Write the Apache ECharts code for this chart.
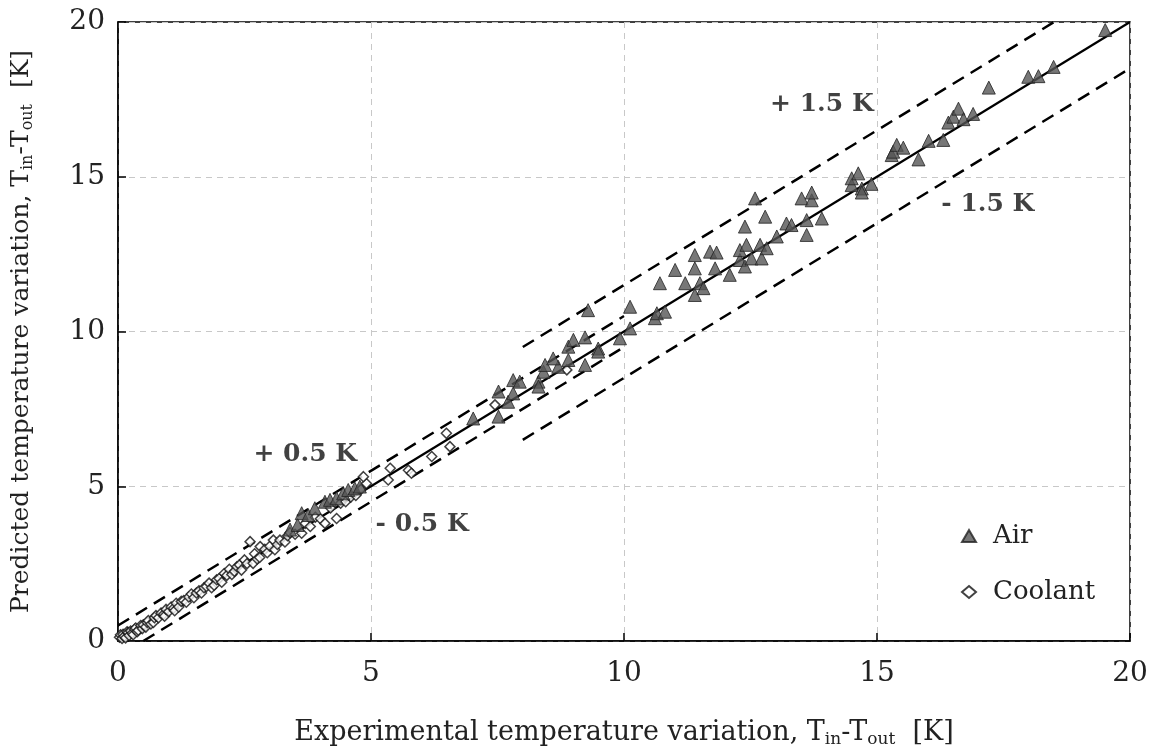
<!DOCTYPE html>
<html>
<head>
<meta charset="utf-8">
<script src="https://cdn.jsdelivr.net/npm/echarts@6/dist/echarts.min.js"></script>
<style>
  html, body { margin: 0; padding: 0; background: #fff; }
  #chart { width: 1156px; height: 753px; }
</style>
</head>
<body>
<div id="chart"></div>
<script>
// experimental vs predicted temperature variation [K]
const airPoints = [
    [3.40, 3.60], [3.55, 3.75], [3.63, 4.13], [3.76, 4.07], [3.89, 4.29], [4.09, 4.50],
    [4.19, 4.56], [4.32, 4.61], [4.45, 4.77], [4.55, 4.88], [4.68, 4.93], [4.78, 4.99],
    [7.02, 7.19], [7.52, 7.25], [7.71, 7.73], [7.52, 8.06], [7.81, 8.00], [7.81, 8.43],
    [7.94, 8.38], [8.31, 8.38], [8.31, 8.22], [8.41, 8.70], [8.44, 8.92], [8.70, 8.86],
    [8.60, 9.13], [8.90, 9.08], [8.90, 9.51], [9.00, 9.73], [9.23, 9.81], [9.23, 8.92],
    [9.49, 9.45], [9.49, 9.35], [9.29, 10.69], [9.92, 9.78], [10.12, 10.10], [10.12, 10.80],
    [10.61, 10.43], [10.65, 10.59], [10.81, 10.64], [10.71, 11.56], [11.01, 11.99], [11.21, 11.56],
    [11.40, 11.18], [11.50, 11.56], [11.57, 11.40], [11.40, 12.04], [11.40, 12.47], [11.70, 12.58],
    [11.83, 12.55], [11.80, 12.04], [12.09, 11.83], [12.29, 12.31], [12.39, 12.10], [12.52, 12.36],
    [12.72, 12.36], [12.29, 12.63], [12.42, 12.80], [12.69, 12.80], [12.82, 12.69], [13.02, 13.07],
    [12.39, 13.39], [12.79, 13.71], [12.59, 14.30], [13.21, 13.49], [13.31, 13.44], [13.61, 13.60],
    [13.61, 13.12], [13.91, 13.65], [13.51, 14.30], [13.71, 14.24], [13.71, 14.49], [14.50, 14.73],
    [14.50, 14.95], [14.63, 15.11], [14.70, 14.62], [14.70, 14.49], [14.89, 14.77], [15.29, 15.70],
    [15.32, 15.81], [15.39, 16.03], [15.52, 15.94], [15.82, 15.56], [16.02, 16.16], [16.31, 16.19],
    [16.41, 16.75], [16.51, 16.94], [16.61, 17.20], [16.71, 16.86], [16.90, 17.03], [17.21, 17.88],
    [17.99, 18.23], [18.19, 18.25], [18.49, 18.55], [19.51, 19.74]
];
const coolantPoints = [
    [0.03, 0.12], [0.05, 0.20], [0.08, 0.08], [0.10, 0.22], [0.12, 0.15], [0.15, 0.10],
    [0.18, 0.30], [0.20, 0.27], [0.22, 0.18], [0.25, 0.32], [0.28, 0.25], [0.30, 0.20],
    [0.33, 0.38], [0.35, 0.42], [0.38, 0.30], [0.40, 0.35], [0.45, 0.50], [0.48, 0.40],
    [0.50, 0.52], [0.55, 0.45], [0.58, 0.60], [0.60, 0.66], [0.65, 0.55], [0.70, 0.60],
    [0.72, 0.75], [0.75, 0.82], [0.80, 0.75], [0.85, 0.90], [0.90, 0.86], [0.92, 0.80],
    [0.95, 1.02], [1.00, 0.95], [1.05, 1.10], [1.10, 1.06], [1.12, 0.98], [1.15, 1.22],
    [1.20, 1.10], [1.25, 1.28], [1.30, 1.31], [1.35, 1.25], [1.40, 1.42], [1.45, 1.52],
    [1.50, 1.40], [1.55, 1.55], [1.60, 1.62], [1.65, 1.55], [1.70, 1.72], [1.75, 1.76],
    [1.80, 1.87], [1.85, 1.72], [1.90, 1.80], [1.95, 1.98], [2.00, 2.02], [2.05, 1.90],
    [2.10, 2.18], [2.15, 2.12], [2.20, 2.32], [2.25, 2.15], [2.30, 2.25], [2.35, 2.40],
    [2.40, 2.46], [2.44, 2.29], [2.50, 2.62], [2.55, 2.50], [2.61, 3.21], [2.67, 2.51],
    [2.70, 2.82], [2.75, 2.65], [2.81, 3.05], [2.80, 2.70], [2.90, 2.96], [2.95, 2.85],
    [3.00, 3.06], [3.07, 3.26], [3.10, 2.95], [3.15, 3.12], [3.20, 3.26], [3.30, 3.20],
    [3.35, 3.40], [3.40, 3.50], [3.50, 3.45], [3.63, 3.48], [3.70, 3.80], [3.80, 3.70],
    [3.90, 4.00], [4.00, 3.95], [4.09, 3.80], [4.20, 4.30], [4.32, 3.96], [4.40, 4.45],
    [4.50, 4.50], [4.60, 4.65], [4.70, 4.70], [4.80, 4.90], [4.91, 5.09], [4.85, 5.31],
    [5.34, 5.20], [5.38, 5.58], [5.74, 5.52], [5.80, 5.42], [6.20, 5.96], [6.49, 6.71],
    [6.56, 6.28], [7.45, 7.63], [8.87, 8.76]
];
const perfectLine = [[0, 0], [20, 20]];
const plusHalf = [[0, 0.5], [10, 10.5]];
const minusHalf = [[0.5, 0], [10, 9.5]];
const plusOneHalf = [[8, 9.5], [18.5, 20]];
const minusOneHalf = [[8, 6.5], [20, 18.5]];
const bandLabels = [
    { text: '+ 1.5 K', value: [13.91, 17.32] },
    { text: '- 1.5 K', value: [17.19, 14.09] },
    { text: '+ 0.5 K', value: [3.70, 6.01] },
    { text: '- 0.5 K', value: [6.01, 3.75] }
];

const serif = '"DejaVu Serif", "Liberation Serif", serif';
let myChart = echarts.init(document.getElementById('chart'));

function dashed(data) {
    return {
        type: 'line',
        data: data,
        symbol: 'none',
        silent: true,
        lineStyle: { color: '#000', width: 2.5, type: [13, 8] },
        z: 2
    };
}

function titleRich(size) {
    return {
        t: { fontFamily: serif, fontSize: size, color: '#222', lineHeight: 30 },
        s: { fontFamily: serif, fontSize: Math.round(size * 0.64), color: '#222', lineHeight: 12, verticalAlign: 'bottom' }
    };
}

let options = {
    animation: false,
    grid: {
        left: 118, right: 26, top: 22, bottom: 112,
        containLabel: false,
        outerBoundsMode: 'none',
        show: true,
        borderColor: '#000',
        borderWidth: 1.5
    },
    legend: {
        orient: 'vertical',
        left: 956,
        top: 518,
        itemGap: 30,
        itemWidth: 14,
        itemHeight: 12,
        data: ['Air', 'Coolant'],
        textStyle: { fontFamily: serif, fontSize: 26, color: '#222', padding: [0, 0, 0, 12] }
    },
    xAxis: {
        type: 'value',
        min: 0, max: 20, interval: 5,
        name: '{t|Experimental temperature variation, T}{s|in}{t|-T}{s|out}{t|  [K]}',
        nameLocation: 'middle',
        nameGap: 77,
        nameMoveOverlap: false,
        nameTextStyle: { rich: titleRich(27) },
        axisLine: { lineStyle: { color: '#000', width: 1.5 } },
        axisTick: { inside: true, length: 8, lineStyle: { color: '#000', width: 1.5 } },
        axisLabel: { fontFamily: serif, fontSize: 28, color: '#222', margin: 19 },
        splitLine: { lineStyle: { color: '#c8c8c8', type: [6, 5], width: 1 } }
    },
    yAxis: {
        type: 'value',
        min: 0, max: 20, interval: 5,
        name: '{t|Predicted temperature variation, T}{s|in}{t|-T}{s|out}{t|  [K]}',
        nameLocation: 'middle',
        nameGap: 82,
        nameMoveOverlap: false,
        nameTextStyle: { rich: titleRich(25) },
        axisLine: { lineStyle: { color: '#000', width: 1.5 } },
        axisTick: { inside: true, length: 8, lineStyle: { color: '#000', width: 1.5 } },
        axisLabel: { fontFamily: serif, fontSize: 28, color: '#222', margin: 13 },
        splitLine: { lineStyle: { color: '#c8c8c8', type: [6, 5], width: 1 } }
    },
    series: [
        {
            type: 'line',
            data: perfectLine,
            symbol: 'none',
            silent: true,
            lineStyle: { color: '#000', width: 2.2 },
            z: 2
        },
        dashed(plusHalf),
        dashed(minusHalf),
        dashed(plusOneHalf),
        dashed(minusOneHalf),
        {
            name: 'Coolant',
            type: 'scatter',
            data: coolantPoints,
            symbol: 'diamond',
            symbolSize: 10,
            itemStyle: { color: '#fff', borderColor: '#111', borderWidth: 1.5 },
            z: 3
        },
        {
            name: 'Air',
            type: 'scatter',
            data: airPoints,
            symbol: 'triangle',
            symbolSize: 13,
            itemStyle: { color: '#555', borderColor: '#222', borderWidth: 1 },
            z: 4
        },
        {
            type: 'scatter',
            data: bandLabels,
            symbolSize: 0,
            silent: true,
            label: {
                show: true,
                position: 'inside',
                formatter: function (p) { return p.data.text; },
                fontFamily: serif,
                fontWeight: 'bold',
                fontSize: 25,
                color: '#111'
            },
            z: 5
        }
    ]
};
myChart.setOption(options);
</script>
</body>
</html>
